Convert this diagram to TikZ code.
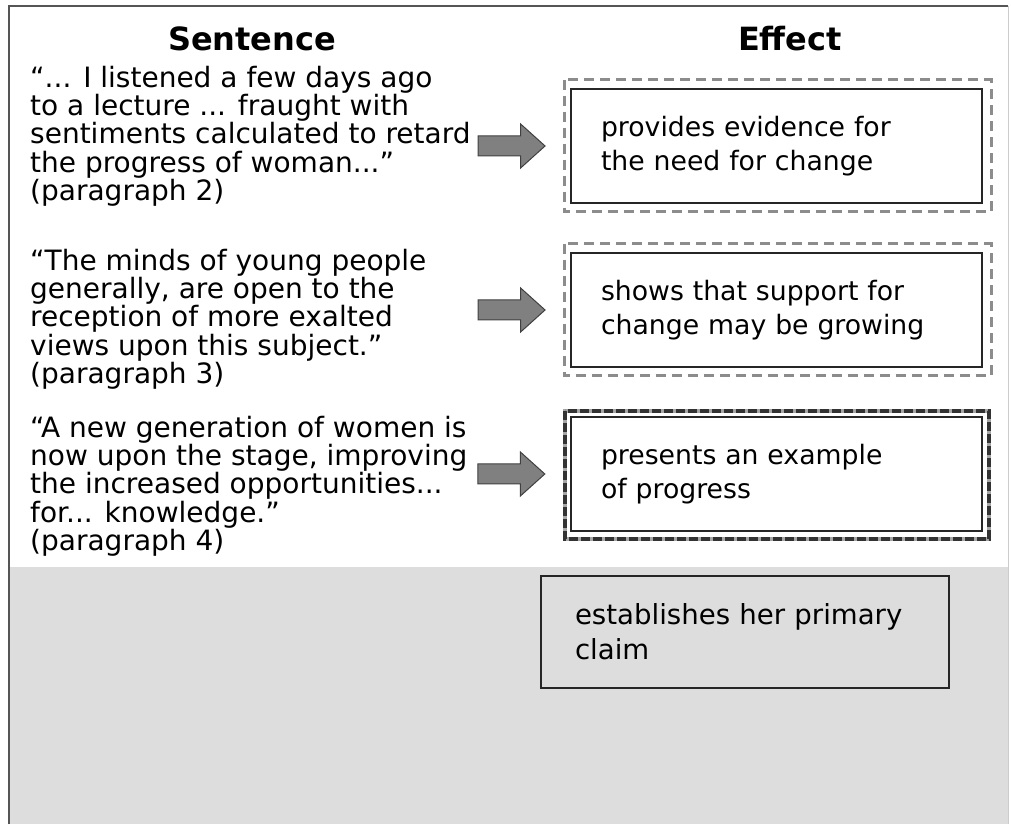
\documentclass[tikz,border=0pt]{standalone}
\usepackage{fontspec}
\setmainfont{DejaVu Sans}
\usepackage{xcolor}
\definecolor{panelGray}{HTML}{DDDDDD}
\definecolor{frameGray}{HTML}{555555}
\usepackage{tikz}
\usetikzlibrary{shapes.arrows, calc, positioning}

\begin{document}
\begin{tikzpicture}[x=1pt, y=1pt,
	quote/.style={anchor=north west, align=left, inner sep=0pt, font=\fontsize{28}{28.3}\selectfont},
	head/.style={anchor=base, font=\bfseries\fontsize{32}{36}\selectfont},
	effect/.style={draw=black!85, line width=2pt, minimum width=411pt, minimum height=114pt, text width=351pt, inner xsep=30pt, align=left, font=\fontsize{26.7}{34}\selectfont},
	hint/.style={draw=black!45, line width=3pt, dash pattern=on 10pt off 6pt},
	blockarrow/.style={single arrow, draw=black!75, fill=gray, line width=1pt, minimum height=67pt, text height=9.5pt, text depth=9.5pt, single arrow head extend=12pt, single arrow tip angle=84, inner sep=0pt}]
	\useasboundingbox (0,0) rectangle (1011,824);
	\fill[panelGray] (9,0) rectangle (1008,257);
	\draw[frameGray, line width=2pt] (9,0) -- (9,818) -- (1008,818);
	\draw[black!20, line width=1pt] (1008,818) -- (1008,0);
	\node[head] (sent) at (252,773) {Sentence};
	\node[head] (eff) at (790,773) {Effect};
	% the three quoted sentences
	\node[quote] (q1) at (30,758.3) {“... I listened a few days ago\\to a lecture ... fraught with\\sentiments calculated to retard\\the progress of woman...”\\(paragraph 2)};
	\node[quote] (q2) at (30,575.3) {“The minds of young people\\generally, are open to the\\reception of more exalted\\views upon this subject.”\\(paragraph 3)};
	\node[quote] (q3) at (30,408.3) {“A new generation of women is\\now upon the stage, improving\\the increased opportunities...\\for... knowledge.”\\(paragraph 4)};
	% effects
	\node[effect] (e1) at (776.5,678) {provides evidence for\\the need for change};
	\node[effect] (e2) at (776.5,514) {shows that support for\\change may be growing};
	\draw[hint] ($(e1.north west)+(-6,8)$) rectangle ($(e1.south east)+(8,-8)$);
	\draw[hint] ($(e2.north west)+(-6,8)$) rectangle ($(e2.south east)+(8,-8)$);
	\draw[gray!70, line width=4pt] (565,413) rectangle (989,285);
	\draw[black!80, line width=4pt, dash pattern=on 9pt off 3pt] (565,413) rectangle (989,285);
	\node[effect, line width=2.5pt] (e3) at (776.5,350) {presents an example\\of progress};
	\node[draw=black!85, line width=1.5pt, minimum width=408pt, minimum height=112pt, text width=340pt, inner xsep=34pt, align=left, font=\fontsize{27.6}{35}\selectfont] (e4) at (745,192) {establishes her primary\\claim};
	\node[blockarrow] (a1) at ($(e1.west)+(-64,0)$) {};
	\node[blockarrow] (a2) at ($(e2.west)+(-64,0)$) {};
	\node[blockarrow] (a3) at ($(e3.west)+(-64,0)$) {};

\end{tikzpicture}
\end{document}
